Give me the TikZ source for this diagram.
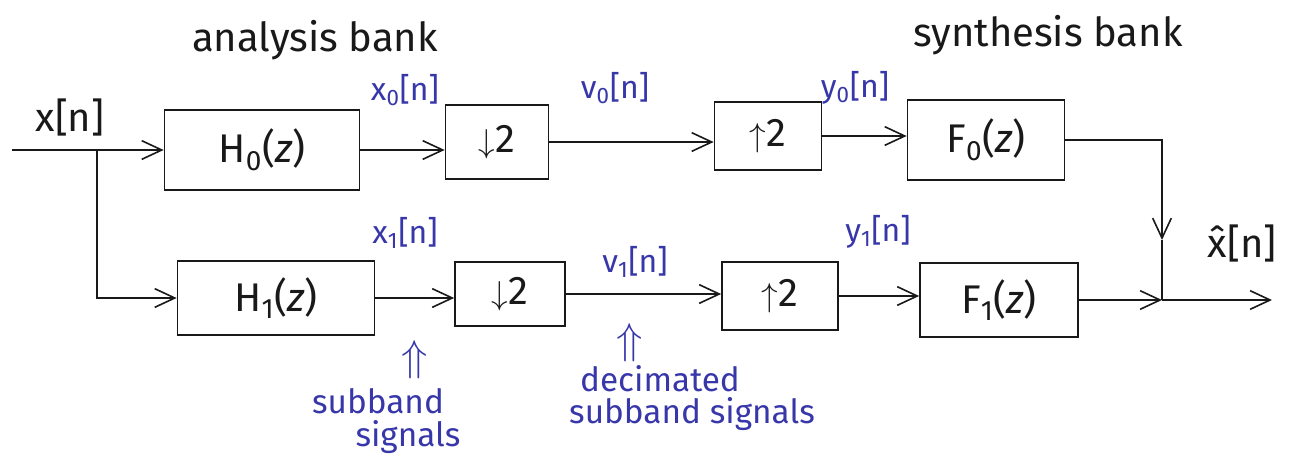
\documentclass[tikz,border=0pt]{standalone}
\usepackage{fontspec}
\setmainfont{Fira Sans}
\usetikzlibrary{arrows.meta}
\definecolor{ink}{RGB}{25,25,25}
\definecolor{pen}{RGB}{55,55,170}
\tikzset{
  blk/.style={draw=ink, line width=1.3pt, minimum width=#1, inner sep=0pt},
  wire/.style={draw=ink, line width=1.2pt},
  arr/.style={wire, -{Straight Barb[length=15pt,width=14pt,line width=1.2pt]}},
  boxtxt/.style={font=\fontsize{30}{34}\selectfont, text=ink},
  sig/.style={font=\fontsize{24}{28}\selectfont, text=pen},
  note/.style={font=\fontsize{25}{28}\selectfont, text=pen},
  uparr/.style={font=\fontsize{24}{24}\selectfont, text=pen, inner sep=0pt},
  head/.style={font=\fontsize{30}{34}\selectfont, text=ink},
}
\begin{document}
\begin{tikzpicture}[x=0.75pt,y=-0.75pt]
\useasboundingbox (0,0) rectangle (1304,469);
% blocks
\node[blk=195pt*0.75, minimum height=60pt, boxtxt] (H0) at (262,150) {H\textsubscript{0}(\textit{z})};
\node[blk=103pt*0.75, minimum height=56pt, boxtxt] (D0) at (497,142) {$\downarrow$2};
\node[blk=107pt*0.75, minimum height=51pt, boxtxt] (U0) at (768,136) {$\uparrow$2};
\node[blk=157pt*0.75, minimum height=60pt, boxtxt] (F0) at (986,140) {F\textsubscript{0}(\textit{z})};
\node[blk=197pt*0.75, minimum height=55pt, boxtxt] (H1) at (276,298) {H\textsubscript{1}(\textit{z})};
\node[blk=110pt*0.75, minimum height=48pt, boxtxt] (D1) at (510,294) {$\downarrow$2};
\node[blk=116pt*0.75, minimum height=51pt, boxtxt] (U1) at (780,296) {$\uparrow$2};
\node[blk=158pt*0.75, minimum height=55pt, boxtxt] (F1) at (999,300) {F\textsubscript{1}(\textit{z})};
% coordinates
\coordinate (in) at (12,150);
\coordinate (br) at (97,150);
\coordinate (jm) at (1162,240);
\coordinate (j) at (1162,300);
\coordinate (out) at (1272,300);
% wires
\draw[arr] (in) -- (H0.west);
\draw[arr] (br) |- (H1.west);
\draw[arr] (H0.east) -- (H0.east -| D0.west);
\draw[arr] (D0.east) -- (D0.east -| U0.west);
\draw[arr] (U0.east) -- (U0.east -| F0.west);
\draw[arr] (F0.east) -| (jm);
\draw[wire] (jm) -- (j);
\draw[arr] (H1.east) -- (H1.east -| D1.west);
\draw[arr] (D1.east) -- (D1.east -| U1.west);
\draw[arr] (U1.east) -- (U1.east -| F1.west);
\draw[arr] (F1.east) -- (j);
\draw[arr] (j) -- (out);
% headings
\node[head] (ta) at (315,40) {analysis bank};
\node[head] (ts) at (1048,35) {synthesis bank};
% signal labels
\node[head] (lx) at (70,117) {x[n]};
\node[sig] (lx0) at (405,90) {x\textsubscript{0}[n]};
\node[sig] (lv0) at (615,88) {v\textsubscript{0}[n]};
\node[sig] (ly0) at (855,88) {y\textsubscript{0}[n]};
\node[sig] (lx1) at (405,233) {x\textsubscript{1}[n]};
\node[sig] (lv1) at (635,262) {v\textsubscript{1}[n]};
\node[sig] (ly1) at (878,232) {y\textsubscript{1}[n]};
\node[head, anchor=west] (lxh) at (1203,243) {\^{x}[n]};
% notes
\node[uparr] (ua) at (415,360) {\scalebox{1.3}{$\Uparrow$}};
\node[note] (sa1) at (378,401) {subband};
\node[note] (sa2) at (408,437) {signals};
\node[uparr] (ub) at (630,343) {\scalebox{1.3}{$\Uparrow$}};
\node[note] (sb1) at (660,379) {decimated};
\node[note] (sb2) at (692,414) {subband signals};
\end{tikzpicture}
\end{document}
